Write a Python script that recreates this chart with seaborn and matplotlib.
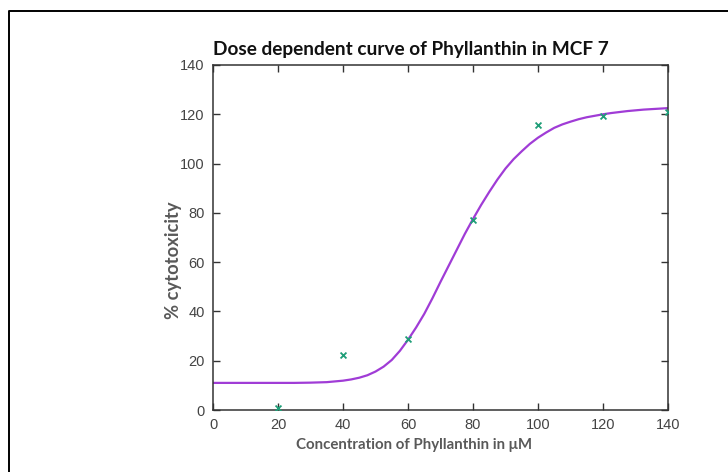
import matplotlib
matplotlib.use("Agg")
import matplotlib.pyplot as plt
from matplotlib.lines import Line2D
import seaborn as sns
import pandas as pd

# measured points
conc = [20, 40, 60, 80, 100, 120, 140]
cytotox = [1.0, 22.5, 29.0, 77.0, 115.5, 119.5, 121.0]

# fitted curve
curve_x = [0, 5, 10, 15, 20, 25, 30, 35, 40, 42.5, 45, 47.5, 50, 52.5, 55, 57.5,
           60, 62.5, 65, 67.5, 70, 72.5, 75, 77.5, 80, 82.5, 85, 87.5, 90, 92.5,
           95, 97.5, 100, 102.5, 105, 107.5, 110, 112.5, 115, 117.5, 120, 122.5,
           125, 127.5, 130, 132.5, 135, 137.5, 140]
curve_y = [11.0, 11.0, 11.0, 11.0, 11.0, 11.0, 11.1, 11.3, 11.9, 12.4, 13.1, 14.1,
           15.6, 17.6, 20.3, 24.0, 28.5, 33.5, 39.0, 45.3, 52.0, 58.5, 65.0, 71.5,
           77.5, 83.2, 88.5, 93.5, 98.0, 101.8, 105.0, 108.0, 110.5, 112.6, 114.5,
           115.9, 117.0, 118.0, 118.8, 119.4, 120.0, 120.5, 120.9, 121.3, 121.6,
           121.9, 122.1, 122.3, 122.5]

xticks = [0, 20, 40, 60, 80, 100, 120, 140]
yticks = [0, 20, 40, 60, 80, 100, 120, 140]

title = "Dose dependent curve of Phyllanthin in MCF 7"
xlabel = "Concentration of Phyllanthin in μM"
ylabel = "% cytotoxicity"

sns.set_style("ticks")
plt.rcParams['font.family'] = ['Liberation Sans', 'DejaVu Sans']

fig = plt.figure(figsize=(7.28, 4.72), dpi=100)
ax = fig.add_axes([213/728, 1-410/472, (668-213)/728, (410-65)/472])

df_curve = pd.DataFrame({"x": curve_x, "y": curve_y})
df_pts = pd.DataFrame({"x": conc, "y": cytotox})

sns.lineplot(data=df_curve, x="x", y="y", ax=ax, color="#a03cd6", linewidth=1.6)
sns.scatterplot(data=df_pts, x="x", y="y", ax=ax, marker="x", color="#1f9e78",
                s=18, linewidth=1.3, zorder=5)

ax.set_xlim(0, 140)
ax.set_ylim(0, 140)
ax.set_xticks(xticks)
ax.set_yticks(yticks)
ax.set_xlabel("")
ax.set_ylabel("")
ax.tick_params(direction="in", length=5, width=1, color="#333333",
               top=True, right=True, labelsize=10.5, labelcolor="#444444", pad=6)
ax.tick_params(axis="x", pad=6)
for sp in ax.spines.values():
    sp.set_visible(True)
    sp.set_color("#333333")
    sp.set_linewidth(1.1)
ax.grid(False)

fig.text(411/728, 1-50/472, title, ha="center", va="center", fontsize=13.7,
         fontweight="bold", family=["Lato", "DejaVu Sans"], color="#111111")
fig.text(414/728, 1-445/472, xlabel, ha="center", va="center", fontsize=10.8,
         fontweight="bold", family=["Lato", "DejaVu Sans"], color="#595959")
fig.text(173/728, 1-260/472, ylabel, ha="center", va="center", fontsize=13.2,
         rotation=90, fontweight="bold", family=["Lato", "DejaVu Sans"], color="#595959")

# outer frame (top and left edges)
fig.add_artist(Line2D([9/728, 9/728, 1.0], [0.0, 1-11/472, 1-11/472],
                      transform=fig.transFigure, color="black", linewidth=1.4))

fig.savefig("out.png", dpi=100)
